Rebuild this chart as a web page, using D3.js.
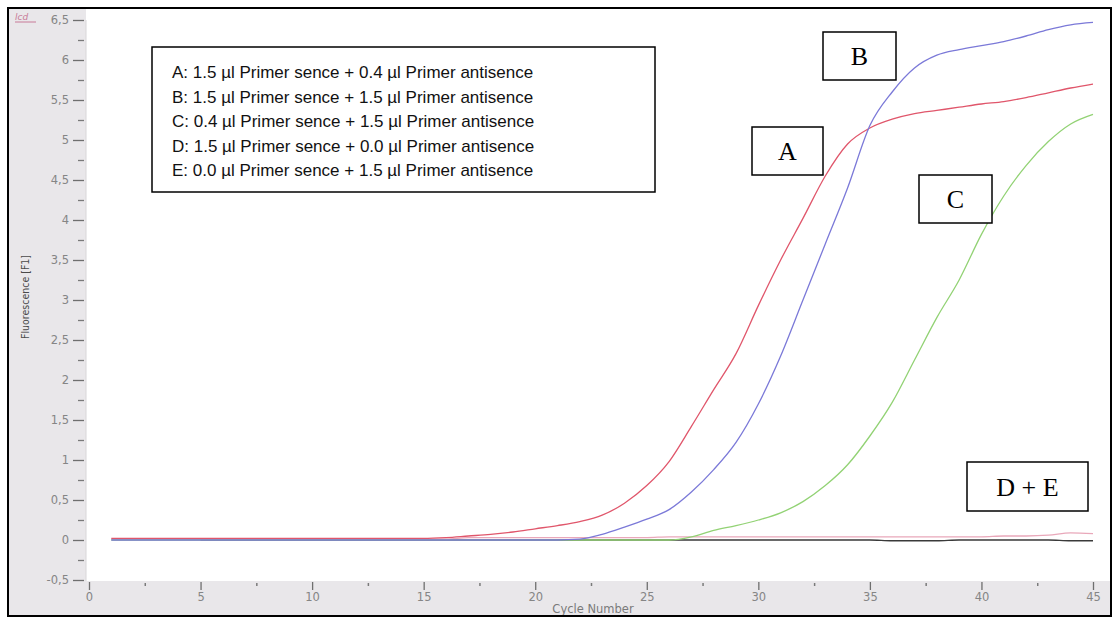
<!DOCTYPE html>
<html>
<head>
<meta charset="utf-8">
<script src="https://cdn.jsdelivr.net/npm/d3@7"></script>
<style>
  html, body { margin: 0; padding: 0; background: #ffffff; }
  svg { display: block; }
</style>
</head>
<body>
<svg id="chart" width="1115" height="617"></svg>
<script>
// ---------------- data ----------------
const cycles = d3.range(1, 46); // cycle numbers 1..45

const seriesA = [0.02,0.02,0.02,0.02,0.02,0.02,0.02,0.02,0.02,0.02,0.02,0.02,0.02,0.02,0.02,
  0.03,0.05,0.07,0.10,0.14,0.18,0.23,0.31,0.46,0.68,0.98,1.42,1.88,2.33,2.93,
  3.50,4.02,4.55,4.95,5.15,5.26,5.33,5.37,5.41,5.45,5.48,5.53,5.59,5.65,5.70];

const seriesB = [0.00,0.00,0.00,0.00,0.00,0.00,0.00,0.00,0.00,0.00,0.00,0.00,0.00,0.00,0.00,
  0.00,0.00,0.00,0.00,0.00,0.00,0.01,0.07,0.16,0.26,0.38,0.60,0.88,1.22,1.70,
  2.30,3.00,3.70,4.40,5.18,5.60,5.90,6.06,6.13,6.18,6.23,6.30,6.38,6.44,6.47];

const seriesC = [0.00,0.00,0.00,0.00,0.00,0.00,0.00,0.00,0.00,0.00,0.00,0.00,0.00,0.00,0.00,
  0.00,0.00,0.00,0.00,0.00,0.00,0.00,0.00,0.00,0.00,0.00,0.04,0.12,0.18,0.25,
  0.34,0.48,0.68,0.94,1.30,1.72,2.25,2.78,3.25,3.82,4.30,4.68,4.98,5.20,5.32];

const seriesD = [0.01,0.01,0.01,0.01,0.01,0.01,0.01,0.01,0.01,0.01,0.01,0.01,0.01,0.01,0.01,
  0.01,0.03,0.03,0.03,0.03,0.03,0.03,0.03,0.03,0.03,0.04,0.04,0.04,0.04,0.04,
  0.04,0.04,0.04,0.04,0.04,0.04,0.04,0.04,0.04,0.04,0.05,0.05,0.06,0.09,0.08];

const seriesE = [null,null,null,null,0.00,0.00,0.00,0.00,0.00,0.00,0.00,0.00,0.00,0.00,0.00,
  0.00,0.00,0.00,0.00,0.00,0.00,0.00,0.00,0.00,0.00,0.00,0.00,0.00,0.00,0.00,
  0.00,0.00,0.00,0.00,0.00,-0.01,-0.01,-0.01,0.00,0.00,0.00,0.00,0.00,-0.01,-0.01];

const seriesNames = ["E", "D", "C", "A", "B"];
const seriesValues = { A: seriesA, B: seriesB, C: seriesC, D: seriesD, E: seriesE };
const seriesColors = { A: "#e0566b", B: "#7b79d8", C: "#92d274", D: "#e9a8ba", E: "#3a3a3a" };

const yTickValues = [-0.5,0,0.5,1,1.5,2,2.5,3,3.5,4,4.5,5,5.5,6,6.5];
const yTickLabels = ["-0,5","0","0,5","1","1,5","2","2,5","3","3,5","4","4,5","5","5,5","6","6,5"];
const yMinorTicks = d3.range(-0.25, 6.5, 0.5);
const xTickValues = [0,5,10,15,20,25,30,35,40,45];
const xTickLabels = ["0","5","10","15","20","25","30","35","40","45"];
const xMinorTicks = [2.5,7.5,12.5,17.5,22.5,27.5,32.5,37.5,42.5];

const legendLines = [
  "A: 1.5 µl Primer sence + 0.4 µl Primer antisence",
  "B: 1.5 µl Primer sence + 1.5 µl Primer antisence",
  "C: 0.4 µl Primer sence + 1.5 µl Primer antisence",
  "D: 1.5 µl Primer sence + 0.0 µl Primer antisence",
  "E: 0.0 µl Primer sence + 1.5 µl Primer antisence"
];
const curveLabels = ["A", "B", "C", "D + E"];

// ---------------- layout ----------------
const W = 1115, H = 617;
const svg = d3.select("#chart");
const x = d3.scaleLinear().domain([0, 45]).range([89, 1093]);
const y = d3.scaleLinear().domain([-0.5, 6.5]).range([580, 20]);

const grayBg = "#e9e7ea";
svg.append("rect").attr("x", 0).attr("y", 0).attr("width", W).attr("height", H).attr("fill", "#ffffff");
svg.append("rect").attr("x", 9).attr("y", 9).attr("width", 77).attr("height", 607).attr("fill", grayBg);
svg.append("rect").attr("x", 9).attr("y", 581).attr("width", 1101).attr("height", 35).attr("fill", grayBg);

// small logo
svg.append("text").attr("x", 15).attr("y", 20).attr("font-family", "DejaVu Sans, sans-serif")
  .attr("font-size", 9).attr("fill", "#c87a98").attr("font-style", "italic").text("lcd");
svg.append("line").attr("x1", 15).attr("x2", 36).attr("y1", 22).attr("y2", 22)
  .attr("stroke", "#c87a98").attr("stroke-width", 1);

// y axis
const yAxis = d3.axisLeft(y).tickValues(yTickValues).tickSize(11).tickPadding(4)
  .tickFormat((d, i) => yTickLabels[i]);
const gy = svg.append("g").attr("transform", "translate(84,0)").call(yAxis);
gy.select(".domain").remove();
gy.selectAll(".tick line").attr("stroke", "#6f6f6f").attr("stroke-width", 1.3);
gy.selectAll(".tick text").attr("fill", "#858585").attr("font-size", 11.5)
  .attr("font-family", "DejaVu Sans, sans-serif");

const yMinor = d3.axisLeft(y).tickValues(yMinorTicks).tickSize(6).tickFormat("");
const gym = svg.append("g").attr("transform", "translate(84,0)").call(yMinor);
gym.select(".domain").remove();
gym.selectAll(".tick line").attr("stroke", "#7a7a7a").attr("stroke-width", 1.3);

// x axis
const xAxis = d3.axisBottom(x).tickValues(xTickValues).tickSize(8).tickPadding(3)
  .tickFormat((d, i) => xTickLabels[i]);
const gx = svg.append("g").attr("transform", "translate(0,582)").call(xAxis);
gx.select(".domain").remove();
gx.selectAll(".tick line").attr("stroke", "#6f6f6f").attr("stroke-width", 1.3);
gx.selectAll(".tick text").attr("fill", "#858585").attr("font-size", 11.5)
  .attr("font-family", "DejaVu Sans, sans-serif");

const xMinor = d3.axisBottom(x).tickValues(xMinorTicks).tickSize(3).tickFormat("");
const gxm = svg.append("g").attr("transform", "translate(0,583)").call(xMinor);
gxm.select(".domain").remove();
gxm.selectAll(".tick line").attr("stroke", "#7a7a7a").attr("stroke-width", 1.5);

// y axis boundary line
svg.append("line").attr("x1", 86).attr("x2", 86).attr("y1", 20).attr("y2", 581)
  .attr("stroke", "#d8d6d9").attr("stroke-width", 1);

// axis titles
svg.append("text").attr("transform", "translate(29,297) rotate(-90)").attr("text-anchor", "middle")
  .attr("font-family", "DejaVu Sans Condensed, DejaVu Sans, sans-serif").attr("font-size", 10.5)
  .attr("fill", "#4a4a4a").text("Fluorescence [F1]");
svg.append("text").attr("x", 593).attr("y", 613).attr("text-anchor", "middle")
  .attr("font-family", "DejaVu Sans, sans-serif").attr("font-size", 11.5)
  .attr("fill", "#7a7a7a").text("Cycle Number");

// curves
const line = d3.line()
  .defined(d => d.v !== null)
  .curve(d3.curveMonotoneX)
  .x(d => x(d.c))
  .y(d => y(d.v));

seriesNames.forEach(name => {
  const pts = cycles.map((c, i) => ({ c: c, v: seriesValues[name][i] }));
  svg.append("path").datum(pts)
    .attr("fill", "none")
    .attr("stroke", seriesColors[name])
    .attr("stroke-width", name === "E" ? 1.4 : 1.3)
    .attr("stroke-linejoin", "round")
    .attr("d", line);
});

// legend box
svg.append("rect").attr("x", 152).attr("y", 47).attr("width", 503).attr("height", 145)
  .attr("fill", "#ffffff").attr("stroke", "#000").attr("stroke-width", 1.5);
legendLines.forEach((t, i) => {
  svg.append("text").attr("x", 172).attr("y", 78 + i * 24.5)
    .attr("font-family", "Liberation Sans, Arial, sans-serif").attr("font-size", 17)
    .attr("fill", "#111").text(t);
});

// curve label boxes
const labelBoxes = [
  { x: 752, y: 127, w: 71, h: 48 },
  { x: 823, y: 32, w: 73, h: 48 },
  { x: 919, y: 175, w: 73, h: 48 },
  { x: 967, y: 462, w: 121, h: 49 }
];
labelBoxes.forEach((b, i) => {
  svg.append("rect").attr("x", b.x).attr("y", b.y).attr("width", b.w).attr("height", b.h)
    .attr("fill", "#ffffff").attr("stroke", "#000").attr("stroke-width", 1.5);
  svg.append("text").attr("x", b.x + b.w / 2).attr("y", b.y + b.h / 2 + 9)
    .attr("text-anchor", "middle").attr("font-family", "Liberation Serif, Times New Roman, serif")
    .attr("font-size", 26).attr("fill", "#000").text(curveLabels[i]);
});

// outer frame
svg.append("rect").attr("x", 8).attr("y", 8).attr("width", 1103).attr("height", 608)
  .attr("fill", "none").attr("stroke", "#000").attr("stroke-width", 2);
</script>
</body>
</html>
